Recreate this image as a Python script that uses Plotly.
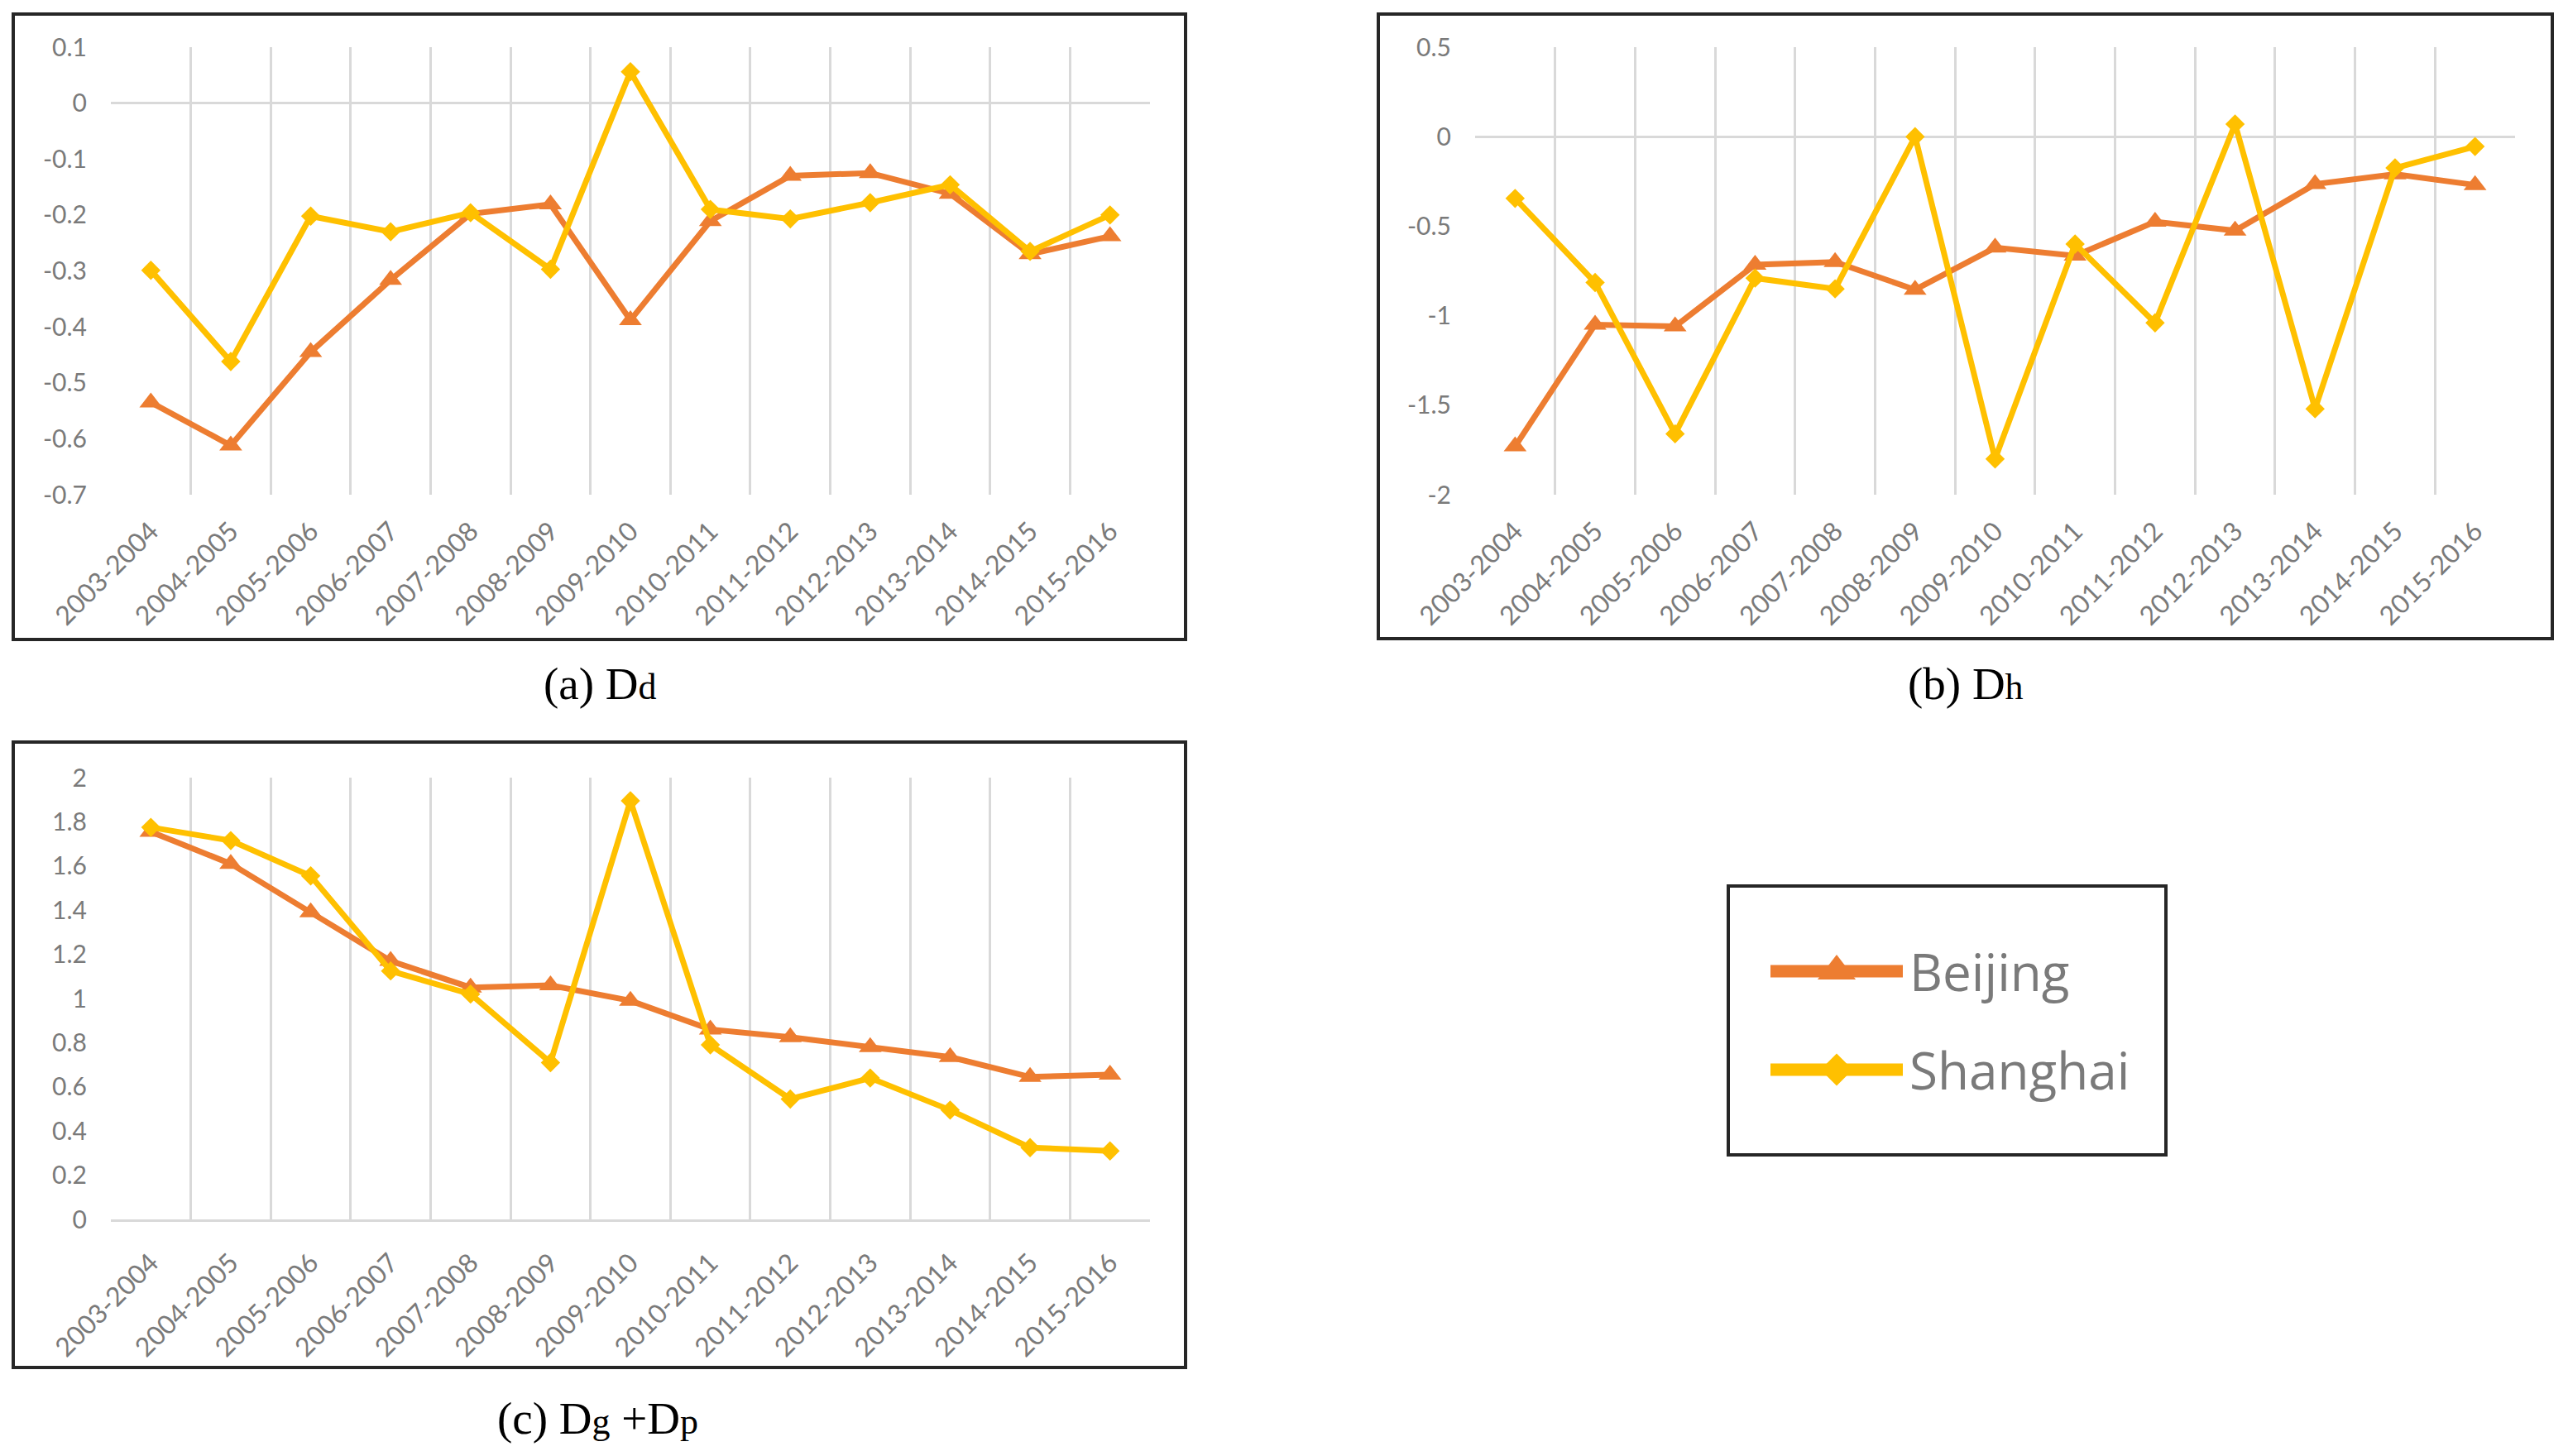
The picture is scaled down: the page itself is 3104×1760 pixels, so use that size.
import plotly.graph_objects as go

# ---------------- data ----------------
categories = ["2003-2004", "2004-2005", "2005-2006", "2006-2007", "2007-2008",
              "2008-2009", "2009-2010", "2010-2011", "2011-2012", "2012-2013",
              "2013-2014", "2014-2015", "2015-2016"]

dd_beijing = [-0.535, -0.612, -0.445, -0.316, -0.198, -0.181, -0.388,
              -0.211, -0.130, -0.125, -0.162, -0.270, -0.238]
dd_shanghai = [-0.299, -0.462, -0.202, -0.230, -0.196, -0.297, 0.056,
               -0.190, -0.207, -0.178, -0.146, -0.265, -0.200]

dh_beijing = [-1.73, -1.05, -1.06, -0.715, -0.70, -0.855, -0.62,
              -0.665, -0.475, -0.525, -0.265, -0.21, -0.27]
dh_shanghai = [-0.345, -0.815, -1.66, -0.79, -0.85, 0.0, -1.80,
               -0.60, -1.04, 0.07, -1.52, -0.175, -0.055]

dgp_beijing = [1.755, 1.61, 1.39, 1.17, 1.05, 1.06, 0.99,
               0.86, 0.825, 0.78, 0.735, 0.645, 0.655]
dgp_shanghai = [1.775, 1.715, 1.555, 1.125, 1.02, 0.71, 1.895,
                0.79, 0.545, 0.64, 0.495, 0.325, 0.31]

ticks_a = [0.1, 0, -0.1, -0.2, -0.3, -0.4, -0.5, -0.6, -0.7]
ticktext_a = ["0.1", "0", "-0.1", "-0.2", "-0.3", "-0.4", "-0.5", "-0.6", "-0.7"]
ticks_b = [0.5, 0, -0.5, -1, -1.5, -2]
ticktext_b = ["0.5", "0", "-0.5", "-1", "-1.5", "-2"]
ticks_c = [2, 1.8, 1.6, 1.4, 1.2, 1, 0.8, 0.6, 0.4, 0.2, 0]
ticktext_c = ["2", "1.8", "1.6", "1.4", "1.2", "1", "0.8", "0.6", "0.4", "0.2", "0"]

series_names = ["Beijing", "Shanghai"]
captions = ["(a) D<span style='font-size:44px'>d</span>",
            "(b) D<span style='font-size:44px'>h</span>",
            "(c) D<span style='font-size:44px'>g</span> +D<span style='font-size:44px'>p</span>"]

# ---------------- styling ----------------
# the page body has an 8px margin, so the figure is 16px smaller than the window
OFF = 8
W, H = 3104 - 2 * OFF, 1760 - 2 * OFF
C_BJ = "#ED7D31"
C_SH = "#FFC000"
GRID = "#d9d9d9"
TXT = "#7a7a7a"
FONT = "Lato, 'Open Sans', sans-serif"


def fx(p):
    return (p - OFF) / W


def fy(p):
    return 1 - (p - OFF) / H


panels = [
    dict(ax="", bj=dd_beijing, sh=dd_shanghai, rng=[-0.7, 0.1], tv=ticks_a, tt=ticktext_a,
         plot=(134, 1390, 57, 598), box=(16, 1433, 17, 773), cap=(725, 826), baseline=False),
    dict(ax="2", bj=dh_beijing, sh=dh_shanghai, rng=[-2, 0.5], tv=ticks_b, tt=ticktext_b,
         plot=(1783, 3040, 57, 598), box=(1666, 3085, 17, 772), cap=(2376, 826), baseline=False),
    dict(ax="3", bj=dgp_beijing, sh=dgp_shanghai, rng=[0, 2], tv=ticks_c, tt=ticktext_c,
         plot=(134, 1390, 940, 1474), box=(16, 1433, 897, 1653), cap=(722, 1714), baseline=True),
]

fig = go.Figure()
layout = dict(width=W, height=H, margin=dict(l=0, r=0, t=0, b=0, pad=0, autoexpand=False),
              autosize=False,
              paper_bgcolor="white", plot_bgcolor="white", showlegend=False,
              font=dict(family=FONT, color=TXT))
shapes = []
annotations = []

for i, p in enumerate(panels):
    xa = "x" + p["ax"]
    ya = "y" + p["ax"]
    fig.add_trace(go.Scatter(x=categories, y=p["bj"], name=series_names[0], mode="lines+markers",
                             xaxis=xa, yaxis=ya, line=dict(color=C_BJ, width=7),
                             marker=dict(symbol="triangle-up", size=24, color=C_BJ)))
    fig.add_trace(go.Scatter(x=categories, y=p["sh"], name=series_names[1], mode="lines+markers",
                             xaxis=xa, yaxis=ya, line=dict(color=C_SH, width=7),
                             marker=dict(symbol="diamond", size=18, color=C_SH)))
    x0, x1, y0, y1 = p["plot"]
    layout["xaxis" + p["ax"]] = dict(
        domain=[fx(x0), fx(x1)], anchor=ya, type="category", range=[-0.5, 12.5],
        tickson="boundaries", showgrid=True, gridcolor=GRID, gridwidth=3,
        ticks="", tickangle=-45, ticklabelstandoff=18, automargin=False,
        tickfont=dict(family=FONT, size=32, color=TXT),
        showline=p["baseline"], linecolor=GRID, linewidth=3, zeroline=False, fixedrange=True)
    layout["yaxis" + p["ax"]] = dict(
        domain=[fy(y1), fy(y0)], anchor=xa, range=p["rng"], tickvals=p["tv"], ticktext=p["tt"],
        showgrid=False, zeroline=not p["baseline"], zerolinecolor=GRID, zerolinewidth=3,
        ticks="", ticklabelstandoff=28, showline=False, automargin=False,
        tickfont=dict(family=FONT, size=30, color=TXT), fixedrange=True)
    bx0, bx1, by0, by1 = p["box"]
    shapes.append(dict(type="rect", xref="paper", yref="paper",
                       x0=fx(bx0), x1=fx(bx1), y0=fy(by1), y1=fy(by0),
                       line=dict(color="#262626", width=4), layer="below"))
    annotations.append(dict(text=captions[i], xref="paper", yref="paper",
                            x=fx(p["cap"][0]), y=fy(p["cap"][1]), xanchor="center", yanchor="middle",
                            showarrow=False, borderpad=0,
                            font=dict(family="'Liberation Serif', 'Times New Roman', serif",
                                      size=55, color="black")))

# ---------------- custom legend ----------------
LB = (2089, 2618, 1071, 1396)
shapes.append(dict(type="rect", xref="paper", yref="paper",
                   x0=fx(LB[0]), x1=fx(LB[1]), y0=fy(LB[3]), y1=fy(LB[2]),
                   line=dict(color="#262626", width=4)))
layout["xaxis4"] = dict(domain=[fx(LB[0]), fx(LB[1])], range=[LB[0], LB[1]], anchor="y4",
                        visible=False, fixedrange=True, automargin=False)
layout["yaxis4"] = dict(domain=[fy(LB[3]), fy(LB[2])], range=[LB[3], LB[2]], anchor="x4",
                        visible=False, fixedrange=True, automargin=False)
leg_rows = [(1174, C_BJ, "triangle-up", 40), (1293, C_SH, "diamond", 30)]
for (ly, col, sym, sz), name in zip(leg_rows, series_names):
    fig.add_trace(go.Scatter(x=[2140, 2300], y=[ly, ly], mode="lines", xaxis="x4", yaxis="y4",
                             line=dict(color=col, width=15), hoverinfo="skip"))
    fig.add_trace(go.Scatter(x=[2220], y=[ly], mode="markers", xaxis="x4", yaxis="y4",
                             marker=dict(symbol=sym, size=sz, color=col), hoverinfo="skip"))
    annotations.append(dict(text=name, xref="x4", yref="y4", x=2306, y=ly,
                            xanchor="left", yanchor="middle", showarrow=False,
                            font=dict(family="'Open Sans', Lato, sans-serif", size=62, color=TXT)))

layout["shapes"] = shapes
layout["annotations"] = annotations
fig.update_layout(**layout)
fig.write_html("out.html")
